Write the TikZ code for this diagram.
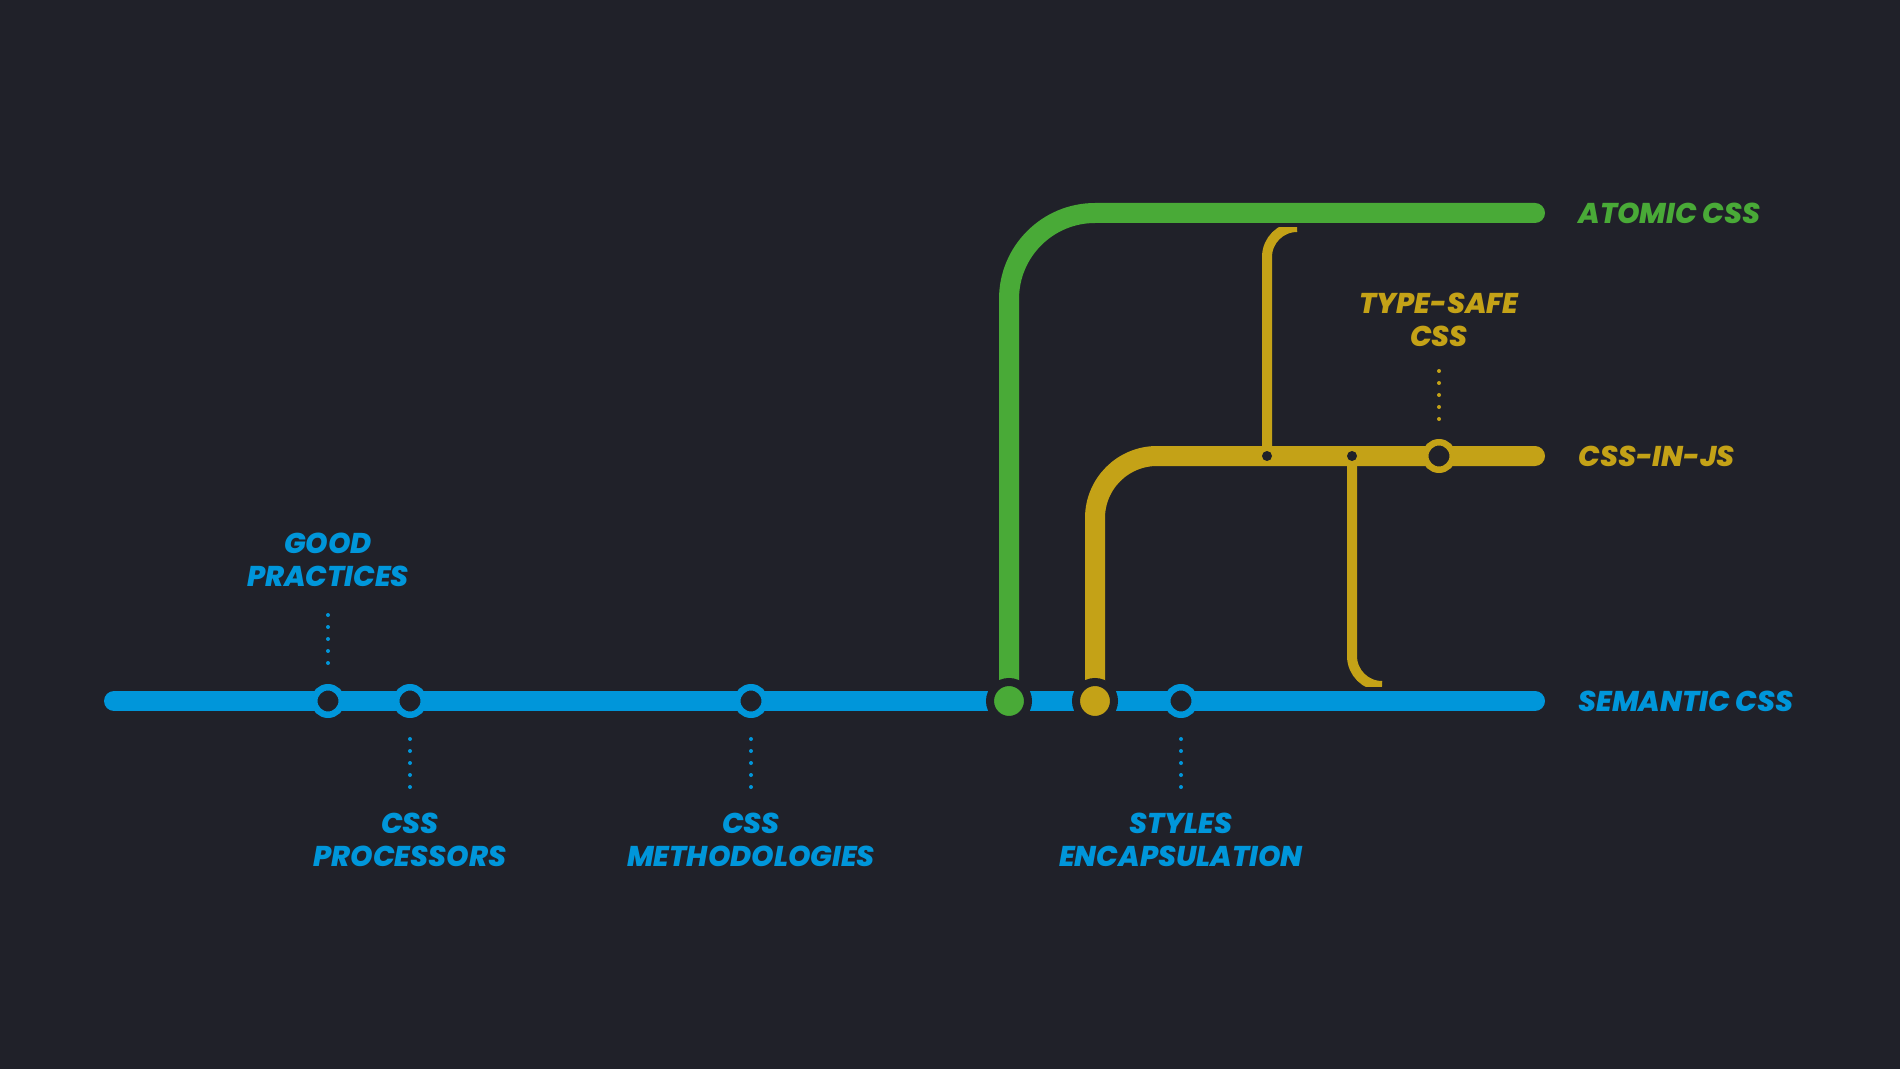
\documentclass[tikz,border=0pt]{standalone}
\usepackage{fontspec}
\setmainfont{Poppins}[BoldItalicFont = {Poppins ExtraBold Italic}]
\usepackage{tikz}
\usetikzlibrary{positioning}
\definecolor{sfondo}{RGB}{32,33,41}
\definecolor{blu}{RGB}{0,150,218}
\definecolor{verde}{RGB}{73,170,55}
\definecolor{giallo}{RGB}{196,162,23}

\begin{document}
\begin{tikzpicture}[x = 0.5pt, y = -0.5pt,
    linea/.style = {line width = 10pt, line cap = round},
    ramo/.style = {line width = 5pt, giallo, rounded corners = 15pt},
    fermata/.style = {circle, fill = sfondo, line width = 3.25pt, minimum size = 13.75pt, inner sep = 0pt},
    nodo/.style = {circle, draw = sfondo, line width = 4pt, minimum size = 19pt, inner sep = 0pt},
    giunto/.style = {circle, fill = sfondo, minimum size = 5pt, inner sep = 0pt},
    puntini/.style = {line width = 2pt, line cap = round, dash pattern = on 0pt off 6pt},
    etichetta/.style = {font = \fontsize{14.3}{16.3}\selectfont\bfseries\itshape, inner sep = 0pt, align = center}]
    % Parametri
    \pgfmathsetmacro{\ysem}{701}
    \pgfmathsetmacro{\yjs}{456}
    \pgfmathsetmacro{\yatom}{213}
    \pgfmathsetmacro{\xfine}{1535}
    % Sfondo
    \fill[sfondo] (0,0) rectangle (1900,1069);
    % Coordinate
    \coordinate (semL) at (114,\ysem);
    \coordinate (semR) at (\xfine,\ysem);
    \coordinate (jsR) at (\xfine,\yjs);
    \coordinate (atomR) at (\xfine,\yatom);
    \coordinate (atomJ) at (1009,\ysem);
    \coordinate (jsJ) at (1095,\ysem);
    \coordinate (g1) at (1267,\yjs);
    \coordinate (g2) at (1352,\yjs);
    \coordinate (ramoA) at (1297,227);
    \coordinate (ramoB) at (1382,686);
    % Linee
    \draw[linea, blu] (semL) -- (semR);
    \draw[linea, verde, rounded corners = 43pt] (atomJ) |- (atomR);
    \draw[linea, giallo, rounded corners = 31pt] (jsJ) |- (jsR);
    % Rami sottili
    \begin{scope}
        \clip (1200,228) rectangle (1400,470);
        \draw[ramo] (g1) |- (ramoA);
    \end{scope}
    \begin{scope}
        \clip (1300,440) rectangle (1400,686);
        \draw[ramo] (g2) |- (ramoB);
    \end{scope}
    \node[giunto] (g1dot) at (g1) {};
    \node[giunto] (g2dot) at (g2) {};
    % Fermate
    \node[nodo, fill = verde] (atomico) at (atomJ) {};
    \node[nodo, fill = giallo] (cssjs) at (jsJ) {};
    \node[fermata, draw = blu] (buone) at (328,\ysem) {};
    \node[fermata, draw = blu] (proc) at (410,\ysem) {};
    \node[fermata, draw = blu] (metod) at (751,\ysem) {};
    \node[fermata, draw = blu] (incaps) at (1181,\ysem) {};
    \node[fermata, draw = giallo] (tipi) at (1439,\yjs) {};
    % Etichette fermate
    \node[etichetta, blu, above = 48.5pt of buone] (buonelbl) {GOOD\\PRACTICES};
    \node[etichetta, blu, below = 47.5pt of proc] (proclbl) {CSS\\PROCESSORS};
    \node[etichetta, blu, below = 47.5pt of metod] (metodlbl) {CSS\\METHODOLOGIES};
    \node[etichetta, blu, below = 47.5pt of incaps] (incapslbl) {STYLES\\ENCAPSULATION};
    \node[etichetta, giallo, above = 46pt of tipi] (tipilbl) {TYPE-SAFE\\CSS};
    % Puntini
    \draw[puntini, blu] ([yshift = 10.5pt]buone.north) -- ++(0,-49);
    \draw[puntini, blu] ([yshift = -10.5pt]proc.south) -- ++(0,49);
    \draw[puntini, blu] ([yshift = -10.5pt]metod.south) -- ++(0,49);
    \draw[puntini, blu] ([yshift = -10.5pt]incaps.south) -- ++(0,49);
    \draw[puntini, giallo] ([yshift = 10pt]tipi.north) -- ++(0,-49);
    % Etichette linee
    \node[etichetta, verde, anchor = west, right = 21.5pt of atomR] (atomlbl) {ATOMIC CSS};
    \node[etichetta, giallo, anchor = west, right = 21.5pt of jsR] (jslbl) {CSS-IN-JS};
    \node[etichetta, blu, anchor = west, right = 21.5pt of semR] (semlbl) {SEMANTIC CSS};
\end{tikzpicture}
\end{document}
